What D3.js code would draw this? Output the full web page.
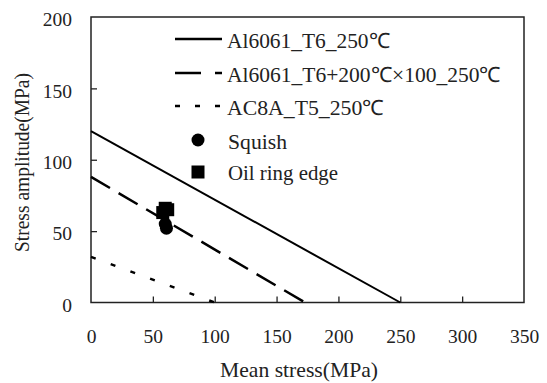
<!DOCTYPE html>
<meta charset="utf-8">
<script src="https://d3js.org/d3.v7.min.js"></script>
<style>
  body { margin: 0; background: #fff; }
</style>
<div id="my_dataviz"></div>
<script>

  // data
  var xTicks = [0, 50, 100, 150, 200, 250, 300, 350];
  var yTicks = [0, 50, 100, 150, 200];

  // Goodman-type lines: [mean stress, stress amplitude] end points
  var al6061 = [[0, 120], [250, 0]];
  var al6061Aged = [[0, 88], [173, 0]];
  var ac8a = [[0, 32], [100, 0]];

  // measured points
  var squish = [[60, 55], [61, 52]];
  var oilRing = [[60, 66], [62, 65], [58, 63]];

  var seriesNames = ["Al6061_T6_250\u2103", "Al6061_T6+200\u2103\u00d7100_250\u2103", "AC8A_T5_250\u2103"];
  var pointNames = ["Squish", "Oil ring edge"];

  var serif = '"Liberation Serif", "Times New Roman", Times, serif';

  // dimensions
  var margin = {top: 17, right: 23, bottom: 80.5, left: 91},
      width = 547 - margin.left - margin.right,
      height = 383 - margin.top - margin.bottom;

  var root = d3.select("#my_dataviz")
    .append("svg")
      .attr("width", 547)
      .attr("height", 383)
      .style("font-family", serif);

  var svg = root.append("g")
      .attr("transform", "translate(" + margin.left + "," + margin.top + ")");

  var x = d3.scaleLinear().domain([0, 350]).range([0, width]);
  var y = d3.scaleLinear().domain([0, 200]).range([height, 0]);

  // frame
  svg.append("rect")
    .attr("width", width)
    .attr("height", height)
    .attr("fill", "none")
    .attr("stroke", "#222")
    .attr("stroke-width", 1.5);

  // axes with inside ticks
  var xAxis = svg.append("g")
    .attr("transform", "translate(0," + height + ")")
    .call(d3.axisBottom(x).tickValues(xTicks).tickSizeInner(-6).tickSizeOuter(0).tickPadding(27));
  var yAxis = svg.append("g")
    .call(d3.axisLeft(y).tickValues(yTicks).tickSizeInner(-6).tickSizeOuter(0).tickPadding(19));

  [xAxis, yAxis].forEach(function(a) {
    a.attr("font-family", serif).attr("font-size", 19.5);
    a.select(".domain").remove();
    a.selectAll(".tick line").attr("stroke", "#222").attr("stroke-width", 1.3);
    a.selectAll(".tick text").style("font-family", serif).attr("fill", "#222");
  });
  yAxis.selectAll(".tick text").attr("dy", "0.45em");
  // no ticks on the corners
  xAxis.selectAll(".tick line").filter(function(d) { return d === 0 || d === 350; }).remove();
  yAxis.selectAll(".tick line").filter(function(d) { return d === 0 || d === 200; }).remove();

  // axis titles
  svg.append("text")
    .attr("x", 208)
    .attr("y", height + 74.5)
    .attr("text-anchor", "middle")
    .attr("textLength", 158)
    .attr("lengthAdjust", "spacingAndGlyphs")
    .attr("fill", "#222")
    .style("font-family", serif)
    .style("font-size", "21px")
    .text("Mean stress(MPa)");

  svg.append("text")
    .attr("transform", "translate(" + (-69) + "," + 145.5 + ") rotate(-90)")
    .attr("text-anchor", "middle")
    .attr("dy", "0.35em")
    .attr("textLength", 179)
    .attr("lengthAdjust", "spacingAndGlyphs")
    .attr("fill", "#222")
    .style("font-family", serif)
    .style("font-size", "21px")
    .text("Stress amplitude(MPa)");

  var line = d3.line()
    .x(function(d) { return x(d[0]); })
    .y(function(d) { return y(d[1]); });

  var styles = [
    {data: al6061, dash: null, w: 2, legendDash: null},
    {data: al6061Aged, dash: "22,10", w: 2.5, legendDash: "26,14"},
    {data: ac8a, dash: "5,16", w: 2.5, legendDash: "5,15"}
  ];

  styles.forEach(function(s) {
    svg.append("path")
      .datum(s.data)
      .attr("d", line)
      .attr("fill", "none")
      .attr("stroke", "#000")
      .attr("stroke-width", s.w)
      .attr("stroke-dasharray", s.dash);
  });

  // points
  svg.selectAll(".sq")
    .data(oilRing)
    .enter()
    .append("rect")
      .attr("x", function(d) { return x(d[0]) - 6.5; })
      .attr("y", function(d) { return y(d[1]) - 6.5; })
      .attr("width", 13)
      .attr("height", 13)
      .attr("fill", "#000");

  svg.selectAll(".ci")
    .data(squish)
    .enter()
    .append("circle")
      .attr("cx", function(d) { return x(d[0]); })
      .attr("cy", function(d) { return y(d[1]); })
      .attr("r", 6.5)
      .attr("fill", "#000");

  // legend (page coordinates)
  var legend = root.append("g");
  var rowsY = [39, 73, 106];
  var labelWidths = [163, 274, 157];
  styles.forEach(function(s, i) {
    legend.append("line")
      .attr("x1", 175).attr("x2", 222)
      .attr("y1", rowsY[i]).attr("y2", rowsY[i])
      .attr("stroke", "#000")
      .attr("stroke-width", 2.5)
      .attr("stroke-dasharray", s.legendDash);
    legend.append("text")
      .attr("x", 227)
      .attr("y", rowsY[i])
      .attr("dy", "0.43em")
      .attr("textLength", labelWidths[i])
      .attr("lengthAdjust", "spacingAndGlyphs")
      .attr("fill", "#222")
      .style("font-family", serif)
      .style("font-size", "21px")
      .text(seriesNames[i]);
  });

  legend.append("circle")
    .attr("cx", 198).attr("cy", 140).attr("r", 6.5).attr("fill", "#000");
  legend.append("text")
    .attr("x", 228).attr("y", 140).attr("dy", "0.45em")
    .attr("textLength", 59)
    .attr("lengthAdjust", "spacingAndGlyphs")
    .attr("fill", "#222")
    .style("font-family", serif)
    .style("font-size", "21px")
    .text(pointNames[0]);

  legend.append("rect")
    .attr("x", 191.5).attr("y", 165.5).attr("width", 13).attr("height", 13).attr("fill", "#000");
  legend.append("text")
    .attr("x", 228).attr("y", 172).attr("dy", "0.4em")
    .attr("textLength", 110)
    .attr("lengthAdjust", "spacingAndGlyphs")
    .attr("fill", "#222")
    .style("font-family", serif)
    .style("font-size", "21px")
    .text(pointNames[1]);

</script>
